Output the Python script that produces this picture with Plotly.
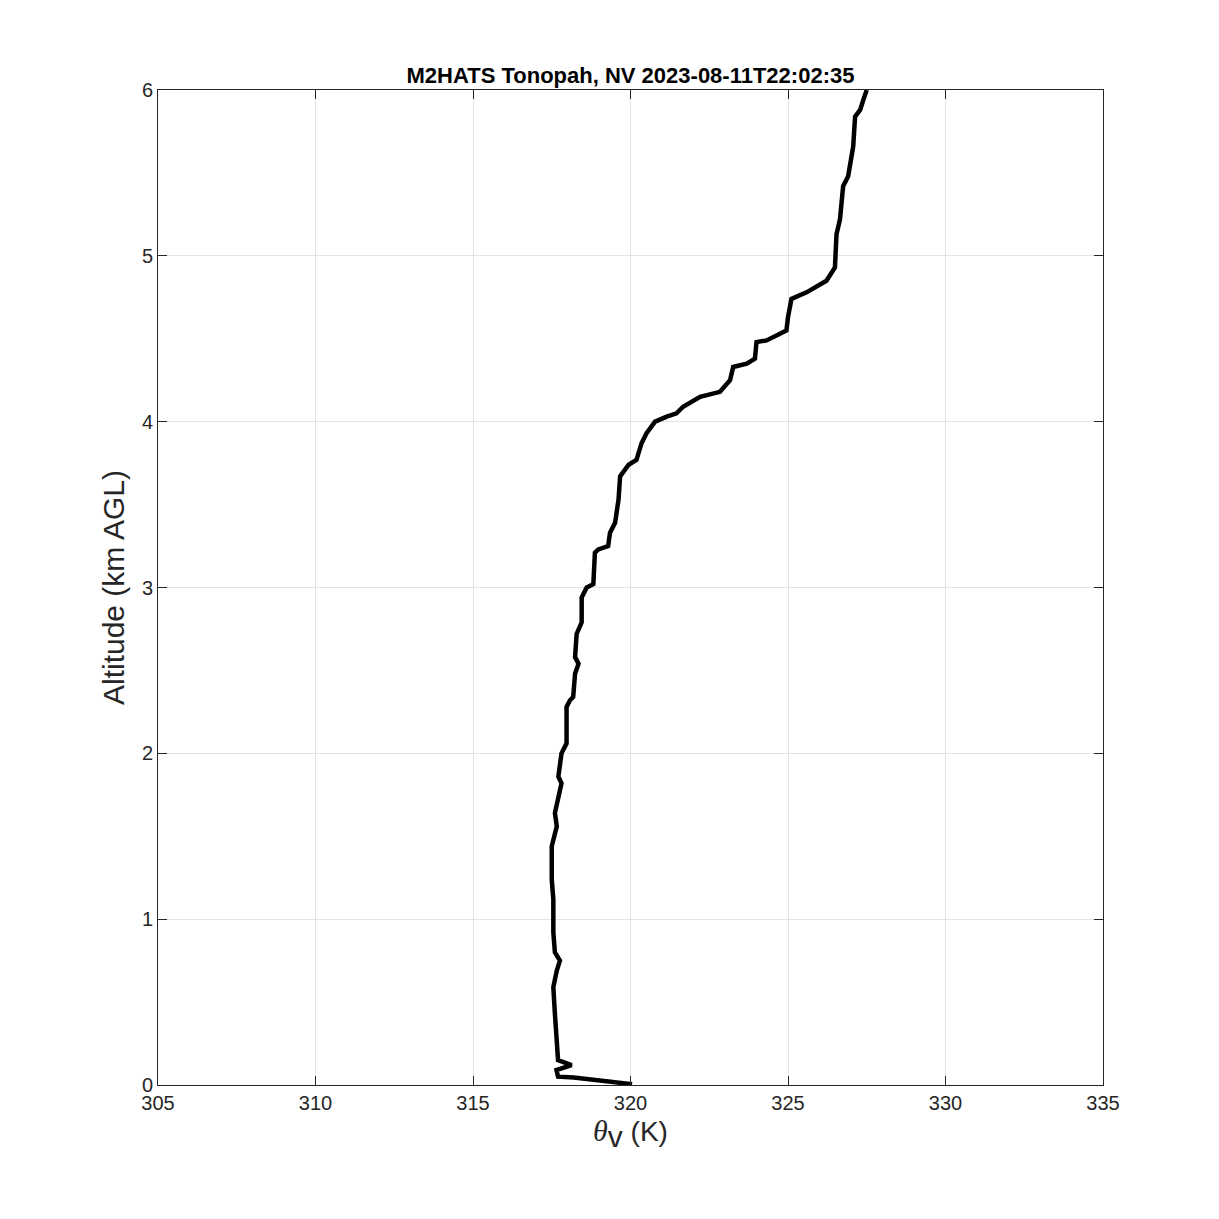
import plotly.graph_objects as go

# Virtual potential temperature (K) and altitude (km AGL)
theta_v = [320.05, 319.4, 318.7, 318.2, 317.7, 317.65, 318.13, 317.7, 317.6, 317.55,
           317.66, 317.76, 317.6, 317.55, 317.55, 317.5, 317.5, 317.66, 317.6, 317.81,
           317.71, 317.81, 317.97, 317.97, 318.08, 318.18, 318.24, 318.35, 318.24, 318.29,
           318.45, 318.45, 318.61, 318.82, 318.87, 318.98, 319.29, 319.35, 319.51, 319.62,
           319.67, 319.94, 320.19, 320.35, 320.51, 320.78, 321.15, 321.46, 321.67, 322.21,
           322.84, 323.16, 323.26, 323.69, 323.95, 324.0, 324.32, 324.95, 325.0, 325.11,
           325.59, 326.22, 326.49, 326.54, 326.65, 326.75, 326.91, 326.97, 327.07, 327.13,
           327.29, 327.39, 327.5]
altitude = [0.005, 0.02, 0.035, 0.045, 0.05, 0.09, 0.12, 0.15, 0.43, 0.59,
            0.69, 0.75, 0.80, 0.92, 1.12, 1.24, 1.44, 1.56, 1.64, 1.82,
            1.86, 2.0, 2.06, 2.28, 2.32, 2.34, 2.48, 2.54, 2.58, 2.72,
            2.79, 2.94, 3.0, 3.02, 3.21, 3.23, 3.25, 3.33, 3.39, 3.53,
            3.67, 3.74, 3.77, 3.87, 3.93, 4.0, 4.03, 4.05, 4.09, 4.15,
            4.18, 4.25, 4.33, 4.35, 4.38, 4.48, 4.49, 4.55, 4.63, 4.74,
            4.78, 4.85, 4.93, 5.13, 5.22, 5.42, 5.48, 5.54, 5.66, 5.84,
            5.88, 5.94, 6.0]

x_ticks = [305, 310, 315, 320, 325, 330, 335]
y_ticks = [0, 1, 2, 3, 4, 5, 6]

FONT = "Liberation Sans, Arial, Helvetica, sans-serif"
W, H = 1203, 1203  # page body has an 8px margin

fig = go.Figure()
fig.add_trace(go.Scatter(x=theta_v, y=altitude, mode="lines",
                         line=dict(color="black", width=4.5), showlegend=False))

axis_common = dict(showline=True, linecolor="#262626", linewidth=1, mirror="ticks",
                   ticks="inside", ticklen=9, tickwidth=1, tickcolor="#262626",
                   showgrid=True, gridcolor="#e3e3e3", gridwidth=1, zeroline=False,
                   tickfont=dict(family=FONT, size=20, color="#262626"))

xlabel = ("<span style='font-family:Liberation Serif;font-style:italic;font-size:30px'>θ</span>"
          "<sub><span style='font-size:30px'>v</span></sub> (K)")

fig.update_layout(
    width=W, height=H,
    paper_bgcolor="white", plot_bgcolor="white",
    margin=dict(l=150, r=108, t=82, b=126),
    title=dict(text="<b>M2HATS Tonopah, NV 2023-08-11T22:02:35</b>",
               x=(630.5 - 8) / W, xanchor="center", y=1 - (75 - 8) / H, yanchor="middle",
               font=dict(family=FONT, size=22, color="black")),
    xaxis=dict(range=[305, 335], tickvals=x_ticks, ticktext=[str(v) for v in x_ticks],
               title=dict(text=xlabel, font=dict(family=FONT, size=28, color="#262626"),
                          standoff=6),
               **axis_common),
    yaxis=dict(range=[0, 6], tickvals=y_ticks, ticktext=[str(v) for v in y_ticks],
               title=dict(text="Altitude (km AGL)", font=dict(family=FONT, size=30, color="#262626"),
                          standoff=8),
               **axis_common),
)

fig.write_html("out.html")
